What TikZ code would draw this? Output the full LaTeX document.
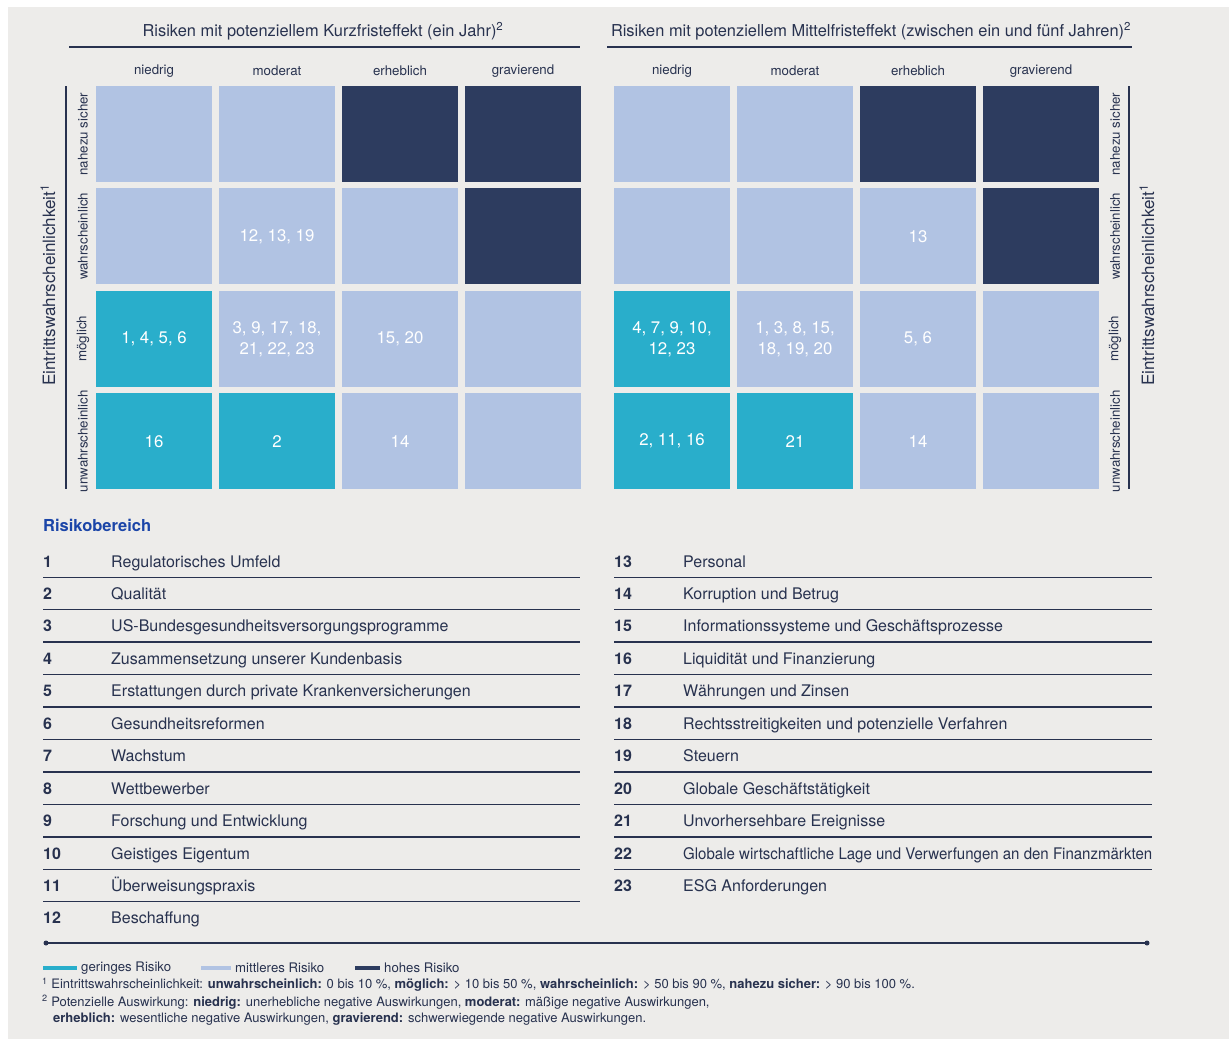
\documentclass[tikz,border=0pt]{standalone}
\usepackage{fontspec}
\setmainfont{TeX Gyre Heros}
\usepackage{graphicx}
\usepackage{tikz}

\definecolor{bg}{HTML}{EDECEA}
\definecolor{navy}{HTML}{28324F}
\definecolor{low}{HTML}{29AECB}
\definecolor{mid}{HTML}{B1C3E3}
\definecolor{high}{HTML}{2D3C5F}
\definecolor{areablue}{HTML}{1B45A8}

\newcommand{\fsz}[2]{\fontsize{#1}{#2}\selectfont}
\newcommand{\squeeze}[1]{\resizebox{469pt}{\height}{#1}}

\tikzset{
  cell/.style={minimum width=116pt, minimum height=96pt, inner sep=0pt,
    text=white, align=center, font=\fsz{16.8}{21}},
  head/.style={text=navy, font=\fsz{16.4}{19}},
  colhead/.style={text=navy, font=\fsz{13.3}{16}},
  rowhead/.style={text=navy, font=\fsz{13.3}{16}, rotate=90},
  axis/.style={text=navy, font=\fsz{17}{20}, rotate=90},
  rule/.style={navy, line width=1.4pt},
  itemnum/.style={anchor=base west, inner sep=0pt, text=navy, font=\bfseries\fsz{16}{19}},
  itemtxt/.style={anchor=base west, inner sep=0pt, text=navy, font=\fsz{16}{19}},
  legtxt/.style={anchor=west, inner sep=0pt, text=navy, font=\fsz{13.2}{16}},
  foot/.style={anchor=west, inner sep=0pt, text=navy, font=\fsz{13}{16}},
  legbar/.style={line width=4pt}
}

\begin{document}
\begin{tikzpicture}[x=1pt, y=-1pt]
\useasboundingbox (0,0) rectangle (1229,1039);
\fill[white] (0,0) rectangle (1229,1039);
\fill[bg] (8,7) rectangle (1229,1039);

% headers
\node[head] (khead) at (323,31) {Risiken mit potenziellem Kurzfristeffekt (ein Jahr)\textsuperscript{2}};
\node[head] (mhead) at (871,31) {Risiken mit potenziellem Mittelfristeffekt (zwischen ein und fünf Jahren)\textsuperscript{2}};
\draw[rule] (69,47) -- (580,47);
\draw[rule] (607,47) -- (1132,47);

\foreach \n [count=\c] in {niedrig, moderat, erheblich, gravierend} {
  \node[colhead] (kcol\c) at ({154+123*(\c-1)},71) {\n};
  \node[colhead] (mcol\c) at ({672+123*(\c-1)},71) {\n};
}
\foreach \n [count=\r] in {nahezu sicher, wahrscheinlich, möglich, unwahrscheinlich} {
  \node[rowhead] (krow\r) at (83,{134+102.4*(\r-1)}) {\n};
  \node[rowhead] (mrow\r) at (1115,{134+102.4*(\r-1)}) {\n};
}
\draw[rule] (66,86) -- (66,489);
\draw[rule] (1129,86) -- (1129,489);
\node[axis] (kaxis) at (48,285) {Eintrittswahrscheinlichkeit\textsuperscript{1}};
\node[axis] (maxis) at (1147,285) {Eintrittswahrscheinlichkeit\textsuperscript{1}};

% short term grid
\foreach \c/\r/\f/\t in {
  1/1/mid/{}, 2/1/mid/{}, 3/1/high/{}, 4/1/high/{},
  1/2/mid/{}, 2/2/mid/{12, 13, 19}, 3/2/mid/{}, 4/2/high/{},
  1/3/low/{1, 4, 5, 6}, 2/3/mid/{3, 9, 17, 18,\\21, 22, 23}, 3/3/mid/{15, 20}, 4/3/mid/{},
  1/4/low/{16}, 2/4/low/{2}, 3/4/mid/{14}, 4/4/mid/{}}
  \node[cell, fill=\f] (k\c\r) at ({154+123*(\c-1)},{134+102.4*(\r-1)}) {\t};

% medium term grid
\foreach \c/\r/\f/\t in {
  1/1/mid/{}, 2/1/mid/{}, 3/1/high/{}, 4/1/high/{},
  1/2/mid/{}, 2/2/mid/{}, 3/2/mid/{13}, 4/2/high/{},
  1/3/low/{4, 7, 9, 10,\\12, 23}, 2/3/mid/{1, 3, 8, 15,\\18, 19, 20}, 3/3/mid/{5, 6}, 4/3/mid/{},
  1/4/low/{2, 11, 16}, 2/4/low/{21}, 3/4/mid/{14}, 4/4/mid/{}}
  \node[cell, fill=\f] (m\c\r) at ({672+123*(\c-1)},{134+102.4*(\r-1)}) {\t};

% list of risk areas
\node[anchor=west, inner sep=0pt, text=areablue, font=\bfseries\fsz{16.5}{19}] (area) at (43,525) {Risikobereich};

\foreach \t [count=\i] in {Regulatorisches Umfeld, Qualität,
  US-Bundesgesundheitsversorgungsprogramme, Zusammensetzung unserer Kundenbasis,
  Erstattungen durch private Krankenversicherungen, Gesundheitsreformen,
  Wachstum, Wettbewerber, Forschung und Entwicklung, Geistiges Eigentum,
  Überweisungspraxis, Beschaffung} {
  \pgfmathsetmacro\y{561+32.45*(\i-1)}
  \node[itemnum] (n\i) at (43,{\y+6}) {\i};
  \node[itemtxt] (t\i) at (111,{\y+6}) {\t};
  \ifnum\i<12 \draw[rule] (43,{\y+16.2}) -- (580,{\y+16.2}); \fi
}
\foreach \t [count=\i from 13] in {Personal, Korruption und Betrug,
  Informationssysteme und Geschäftsprozesse, Liquidität und Finanzierung,
  Währungen und Zinsen, Rechtsstreitigkeiten und potenzielle Verfahren,
  Steuern, Globale Geschäftstätigkeit, Unvorhersehbare Ereignisse,
  {\squeeze{Globale wirtschaftliche Lage und Verwerfungen an den Finanzmärkten}},
  ESG Anforderungen} {
  \pgfmathsetmacro\y{561+32.45*(\i-13)}
  \node[itemnum] (n\i) at (614,{\y+6}) {\i};
  \node[itemtxt] (t\i) at (683,{\y+6}) {\t};
  \ifnum\i<23 \draw[rule] (614,{\y+16.2}) -- (1152,{\y+16.2}); \fi
}

% legend and notes
\coordinate (endL) at (46,943);
\coordinate (endR) at (1147,943);
\draw[navy, line width=1.2pt] (endL) -- (endR);
\fill[navy] (endL) circle (2.5) (endR) circle (2.5);

\draw[legbar, low] (43,968) -- (77,968);
\node[legtxt] (lglow) at (81,968) {geringes Risiko};
\draw[legbar, mid] (201,968) -- (231,968);
\node[legtxt] (lgmid) at (235,968) {mittleres Risiko};
\draw[legbar, high] (355,968) -- (380,968);
\node[legtxt] (lghigh) at (384,968) {hohes Risiko};

\node[foot] (fn1) at (42,985) {\textsuperscript{1}\ Eintrittswahrscheinlichkeit: \textbf{unwahrscheinlich:} 0 bis 10 \%, \textbf{möglich:} > 10 bis 50 \%, \textbf{wahrscheinlich:} > 50 bis 90 \%, \textbf{nahezu sicher:} > 90 bis 100 \%.};
\node[foot] (fn2) at (42,1002) {\textsuperscript{2}\ Potenzielle Auswirkung: \textbf{niedrig:} unerhebliche negative Auswirkungen, \textbf{moderat:} mäßige negative Auswirkungen,};
\node[foot] (fn3) at (53,1019) {\textbf{erheblich:} wesentliche negative Auswirkungen, \textbf{gravierend:} schwerwiegende negative Auswirkungen.};
\end{tikzpicture}
\end{document}
